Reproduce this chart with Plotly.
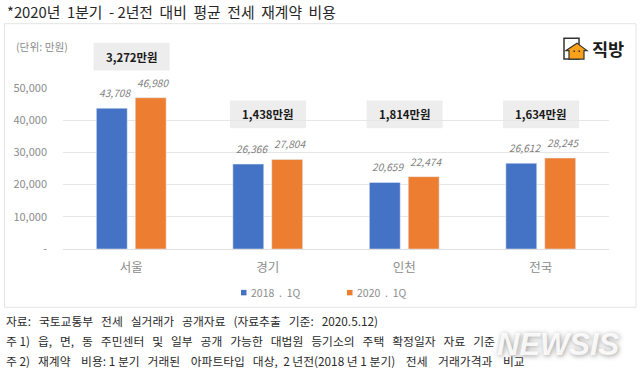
import plotly.graph_objects as go

categories = ["서울", "경기", "인천", "전국"]
series_2018 = [43708, 26366, 20659, 26612]
series_2020 = [46980, 27804, 22474, 28245]
differences = ["3,272만원", "1,438만원", "1,814만원", "1,634만원"]
tick_values = [0, 10000, 20000, 30000, 40000, 50000]
tick_labels = ["-", "10,000", "20,000", "30,000", "40,000", "50,000"]
series_names = ["2018  .  1Q", "2020  .  1Q"]
title_text = "*2020년  1분기  - 2년전  대비  평균  전세  재계약  비용"
notes = [
    "자료:   국토교통부   전세   실거래가   공개자료   (자료추출   기준:   2020.5.12)",
    "주 1)   읍,   면,   동   주민센터   및   일부   공개   가능한   대법원   등기소의   주택   확정일자   자료   기준",
    "주 2)   재계약    비용: 1 분기   거래된    아파트타입   대상,  2 년전(2018 년 1 분기)    전세    거래가격과    비교",
]

W, H = 640, 374
L, R, T, B = 63, 609, 87.5, 249
FONT = "Noto Sans CJK KR"
GREY = "#8c8c8c"
DARK = "#303030"
COLORS = ["#4472C4", "#ED7D31"]


def px(x):
    return (x - L) / (R - L)


def py(y):
    return (B - y) / (B - T)


def nb(s):
    return s.replace(" ", "\u00a0")


def text(x, y, s, size, color=DARK, anchor="left", **font):
    return dict(
        xref="paper", yref="paper", x=px(x), y=py(y), text=nb(s), showarrow=False,
        xanchor=anchor, yanchor="middle", align=anchor,
        font=dict(family=FONT, size=size, color=color, **font),
    )


def rect(x0, y0, x1, y1, fill=None, line=None, width=1, layer="below"):
    return dict(
        type="rect", xref="paper", yref="paper", x0=px(x0), x1=px(x1), y0=py(y0), y1=py(y1),
        fillcolor=fill or "rgba(0,0,0,0)", line=dict(color=line or "rgba(0,0,0,0)", width=width if line else 0),
        layer=layer,
    )


fig = go.Figure()
fig.add_bar(name=series_names[0], x=categories, y=series_2018, marker_color=COLORS[0], showlegend=False)
fig.add_bar(name=series_names[1], x=categories, y=series_2020, marker_color=COLORS[1], showlegend=False)

annotations = [text(5, 10.5, title_text, 14.8, "#262626")]
annotations.append(text(14, 46, "(단위: 만원)", 10.7, GREY))

for i, cat in enumerate(categories):
    for vals, shift in ((series_2018, -16), (series_2020, 22)):
        annotations.append(dict(
            xref="x", yref="y", x=cat, y=vals[i], text=f"{vals[i]:,}", showarrow=False,
            xshift=shift, yshift=6, yanchor="bottom",
            font=dict(family=FONT, size=10.2, color="#7f7f7f", style="italic"),
        ))

badge_y = [56, 114, 114, 114]
shapes = [rect(4.5, 23, 636, 307.5, line="#e4e4e4", width=1)]
for i, cat in enumerate(categories):
    cx = 131.6 + i * 136.5
    shapes.append(rect(cx - 38, badge_y[i] - 14, cx + 38, badge_y[i] + 14, fill="#ededed"))
    annotations.append(text(cx, badge_y[i], differences[i], 11.4, "#1a1a1a", "center", weight="bold"))

# legend key
for name, color, x0 in zip(series_names, COLORS, (241, 347)):
    shapes.append(rect(x0, 290, x0 + 5.5, 295.5, fill=color))
    annotations.append(text(x0 + 8, 293, name, 10.5, GREY))

# logo
shapes.append(rect(564, 37.5, 579, 58.5, fill="#ffffff", line="#333333", width=1.5, layer="above"))
shapes.append(dict(type="path", xref="paper", yref="paper", layer="above",
                   path=f"M {px(566)} {py(50)} L {px(577)} {py(42.5)} L {px(587)} {py(50)} L {px(584)} {py(50)} "
                        f"L {px(584)} {py(58.5)} L {px(569)} {py(58.5)} L {px(569)} {py(50)} Z",
                   fillcolor="#f9a11b", line=dict(color="#333333", width=1.2)))
shapes.append(rect(573.5, 50, 575, 51.5, fill="#333333", layer="above"))
shapes.append(rect(578.5, 50, 580, 51.5, fill="#333333", layer="above"))
annotations.append(text(590, 48, "직방", 17.5, "#1c1c1c", weight="bold"))

for y, n in zip((320.5, 340.5, 361), notes):
    annotations.append(text(4, y, n, 11.8, "#2a2a2a"))

annotations.append(dict(
    xref="paper", yref="paper", x=px(558), y=py(345), xanchor="center", yanchor="middle",
    text="NEWSIS", showarrow=False,
    font=dict(family="Liberation Sans", size=31, color="rgba(255,255,255,0.88)", weight="bold", style="italic",
              shadow="1px 1px 5px #8a8a8a"),
))

fig.update_layout(
    width=W, height=H, margin=dict(l=L, r=W - R, t=T, b=H - B, autoexpand=False),
    paper_bgcolor="white", plot_bgcolor="white",
    barmode="group", bargap=0.43, bargroupgap=0.207,
    font=dict(family=FONT), showlegend=False,
    xaxis=dict(showline=True, linecolor="#e0e0e0", linewidth=1, ticks="",
               tickfont=dict(size=12.5, color=GREY, family=FONT), ticklabelstandoff=7),
    yaxis=dict(range=[0, 50000], tickvals=tick_values, ticktext=tick_labels, showline=False, zeroline=False,
               gridcolor="#e6e6e6", gridwidth=1, ticks="", ticklabelstandoff=15,
               tickfont=dict(size=11, color=GREY, family=FONT)),
    annotations=annotations, shapes=shapes,
)
fig.write_html("out.html", config={"displayModeBar": False},
               post_script="document.body.style.margin='0';document.documentElement.style.overflow='hidden';")
